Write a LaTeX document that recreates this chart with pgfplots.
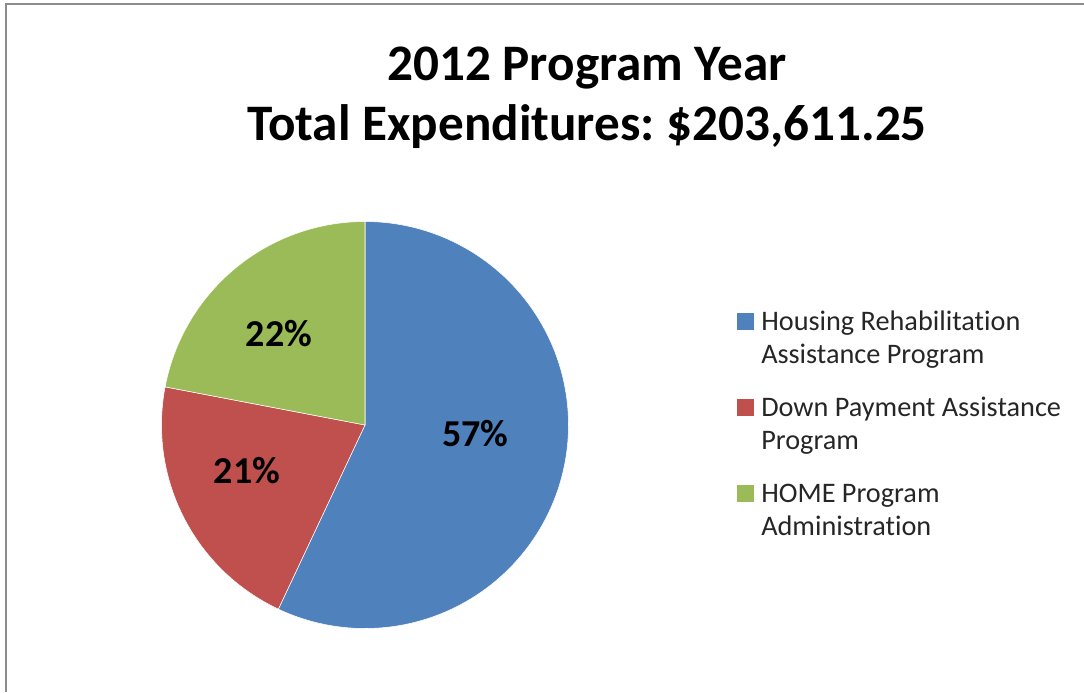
\documentclass[border=0pt]{standalone}
\usepackage{pgfplots}
\pgfplotsset{compat=1.18}
\usepackage{pgfplotstable}
\usepackage{fontspec}
\setmainfont{Carlito}[Ligatures=NoCommon]
\frenchspacing
\definecolor{pieblue}{HTML}{4F81BD}
\definecolor{piered}{HTML}{C0504D}
\definecolor{piegreen}{HTML}{9BBB59}
\definecolor{frame}{HTML}{8C8C8C}
\pgfplotstableread{
share
57
21
22
}\pietable
\begin{document}
\begin{tikzpicture}[x=1pt,y=1pt]
\pgfplotstablegetelem{0}{share}\of\pietable \let\sA\pgfplotsretval
\pgfplotstablegetelem{1}{share}\of\pietable \let\sB\pgfplotsretval
\pgfplotstablegetelem{2}{share}\of\pietable \let\sC\pgfplotsretval
\pgfmathsetmacro{\aA}{90}
\pgfmathsetmacro{\aB}{90-3.6*\sA}
\pgfmathsetmacro{\aC}{\aB-3.6*\sB}
\pgfmathsetmacro{\aD}{\aC-3.6*\sC}
\begin{axis}[
  scale only axis, width=813pt, height=519pt,
  xmin=0, xmax=1084, ymin=0, ymax=692, y dir=reverse,
  hide axis, clip=false,
]
\addplot[fill=pieblue, draw=white, line width=0.4pt, domain=\aB:\aA, samples=120, variable=\t]
  ({365+203.5*cos(\t)}, {425-203.5*sin(\t)}) -- (axis cs:365,425) -- cycle;
\addplot[fill=piered, draw=white, line width=0.4pt, domain=\aC:\aB, samples=60, variable=\t]
  ({365+203.5*cos(\t)}, {425-203.5*sin(\t)}) -- (axis cs:365,425) -- cycle;
\addplot[fill=piegreen, draw=white, line width=0.4pt, domain=\aD:\aC, samples=60, variable=\t]
  ({365+203.5*cos(\t)}, {425-203.5*sin(\t)}) -- (axis cs:365,425) -- cycle;
% frame
\draw[frame, line width=1.5pt] (axis cs:6,692) -- (axis cs:6,4.5) -- (axis cs:1084,4.5);
% title
\node[anchor=base, font=\fontsize{38.4}{46}\selectfont\bfseries] at (axis cs:587,80) {2012 Program Year};
\node[anchor=base, font=\fontsize{38.4}{46}\selectfont\bfseries] at (axis cs:587,140) {Total Expenditures: \$203,611.25};
% slice labels
\node[anchor=base, font=\fontsize{28.5}{34}\selectfont\bfseries] at (axis cs:475.5,446.5) {\sA\%};
\node[anchor=base, font=\fontsize{28.5}{34}\selectfont\bfseries] at (axis cs:247,483) {\sB\%};
\node[anchor=base, font=\fontsize{28.5}{34}\selectfont\bfseries] at (axis cs:279,346.5) {\sC\%};
% legend
\fill[pieblue] (axis cs:737,313) rectangle (axis cs:754,330);
\node[anchor=base west, inner sep=0pt, font=\fontsize{21.2}{25}\selectfont, text=black!85] at (axis cs:761,330) {Housing Rehabilitation};
\node[anchor=base west, inner sep=0pt, font=\fontsize{21.2}{25}\selectfont, text=black!85] at (axis cs:761,363) {Assistance Program};
\fill[piered] (axis cs:737,399) rectangle (axis cs:754,416);
\node[anchor=base west, inner sep=0pt, font=\fontsize{21.2}{25}\selectfont, text=black!85] at (axis cs:761,416) {Down Payment Assistance};
\node[anchor=base west, inner sep=0pt, font=\fontsize{21.2}{25}\selectfont, text=black!85] at (axis cs:761,449) {Program};
\fill[piegreen] (axis cs:737,485) rectangle (axis cs:754,502);
\node[anchor=base west, inner sep=0pt, font=\fontsize{21.2}{25}\selectfont, text=black!85] at (axis cs:761,502) {HOME Program};
\node[anchor=base west, inner sep=0pt, font=\fontsize{21.2}{25}\selectfont, text=black!85] at (axis cs:761,535) {Administration};
\end{axis}
\pgfresetboundingbox
\path (current axis.south west) rectangle (current axis.north east);
\end{tikzpicture}
\end{document}
